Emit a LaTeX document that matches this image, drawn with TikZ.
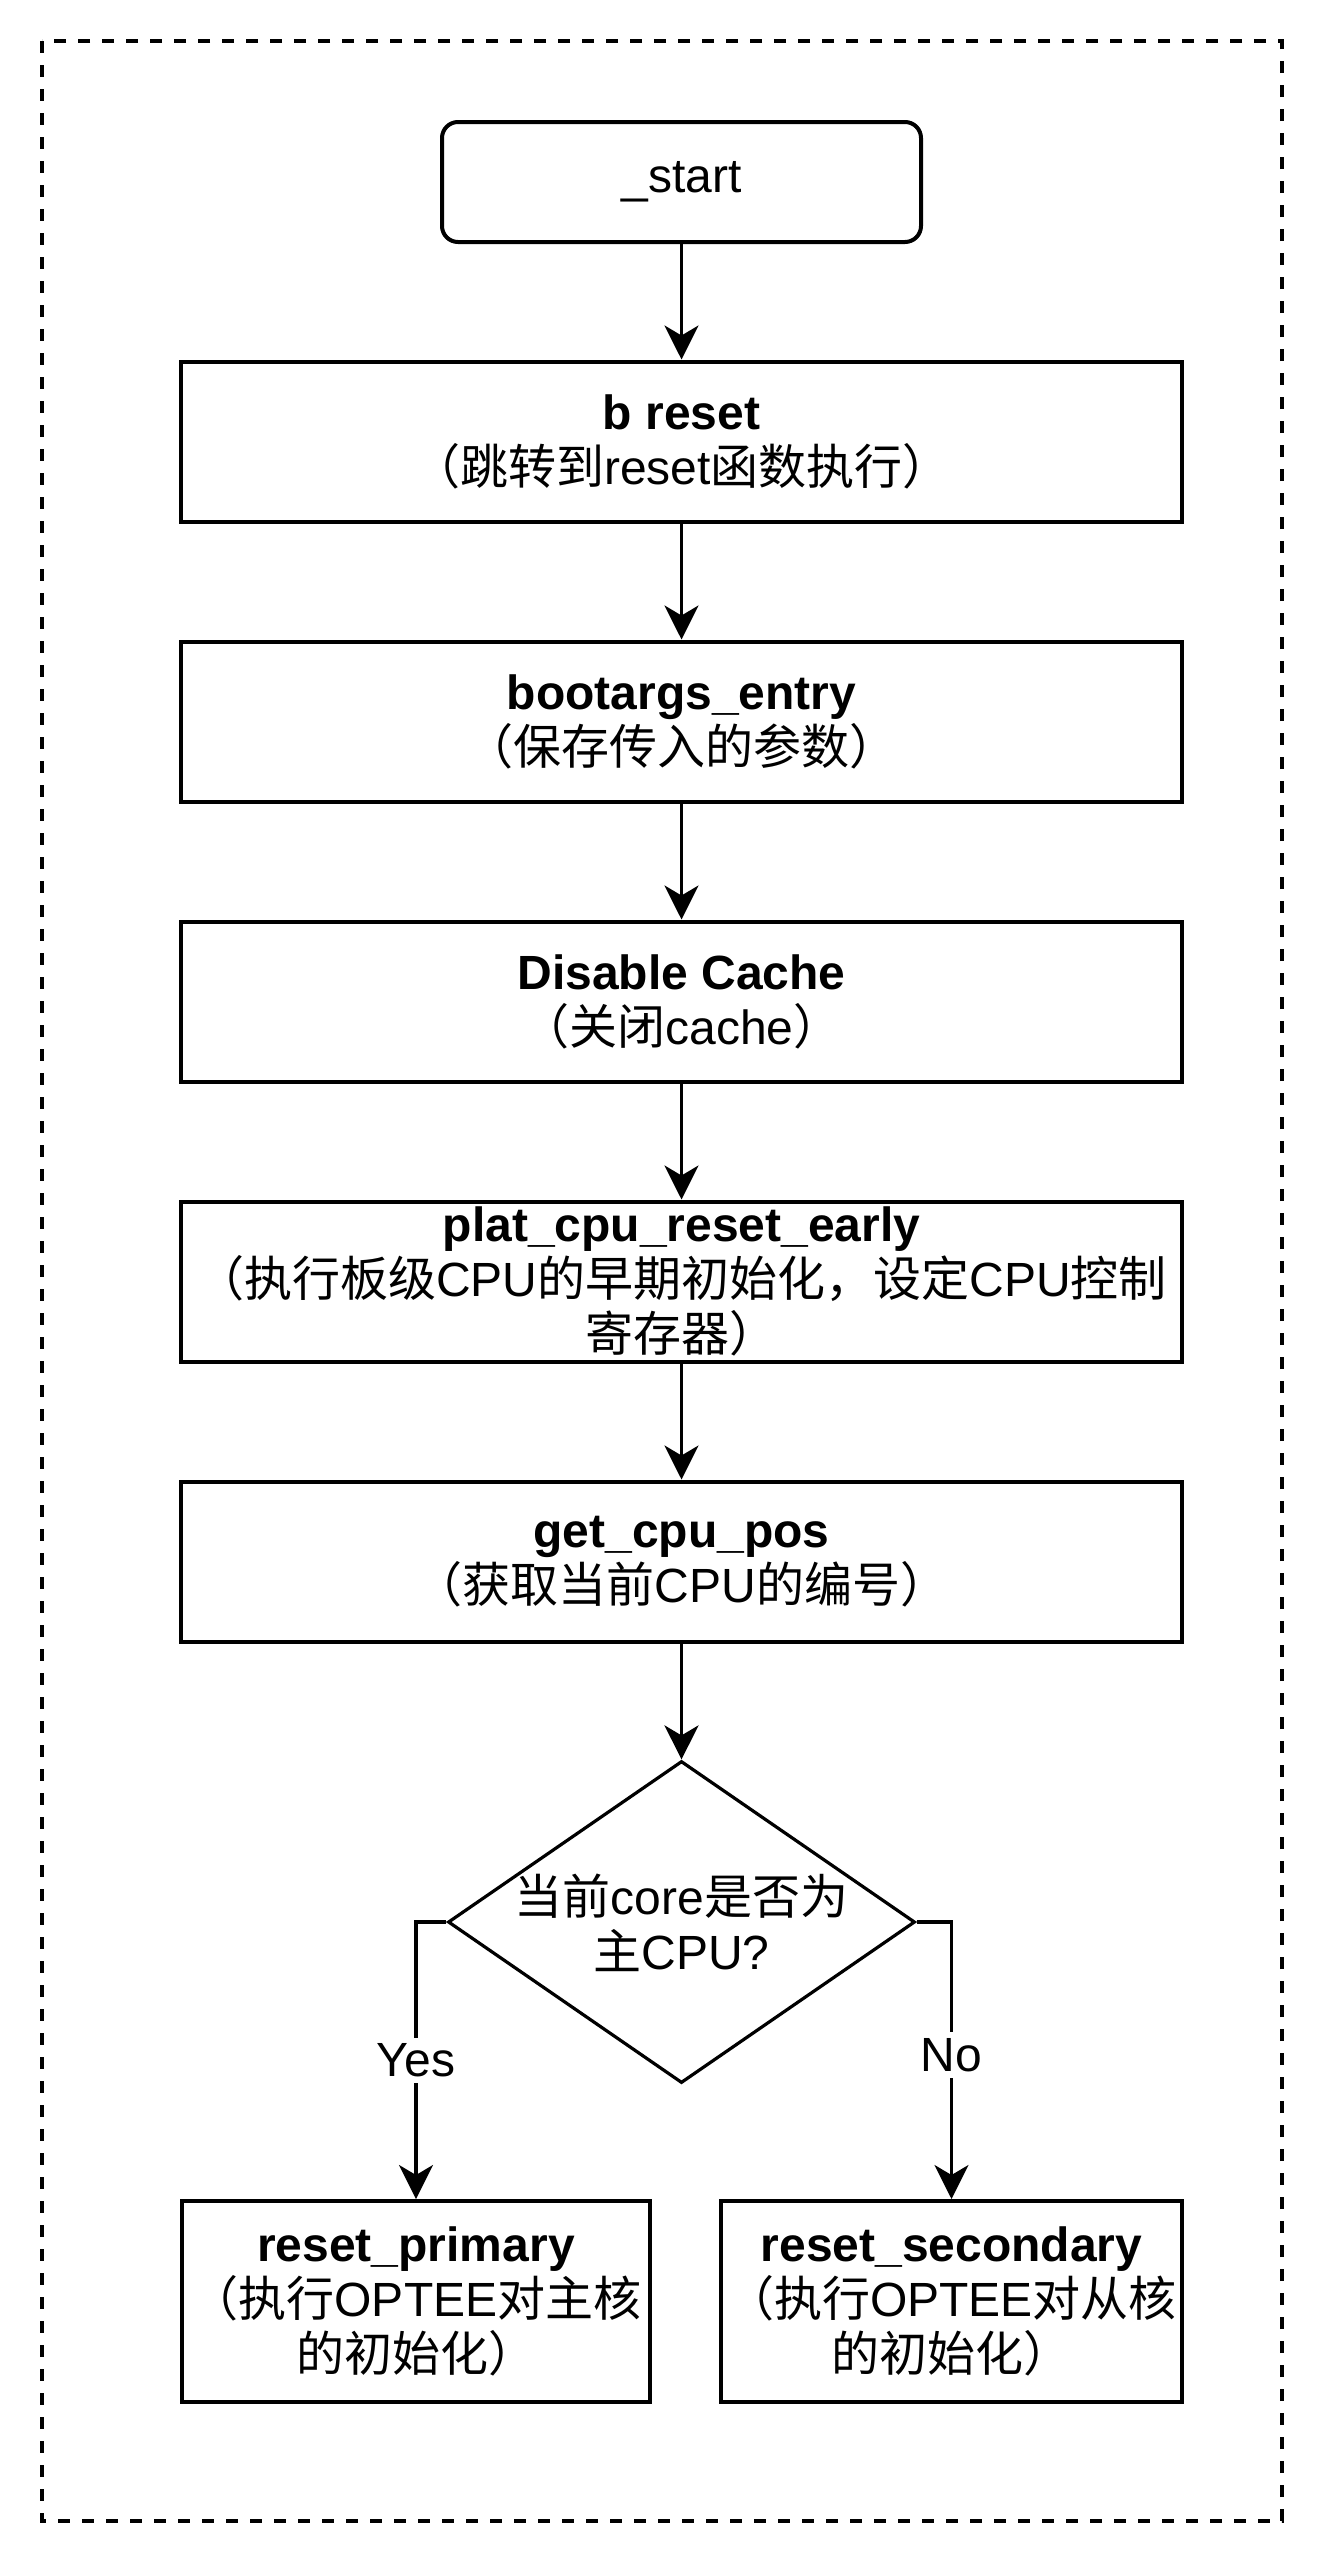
\documentclass[tikz,border=0pt]{standalone}
\usepackage{fontspec}
\setmainfont{Liberation Sans}
\newfontfamily\cjk{Noto Sans CJK SC}
\usetikzlibrary{arrows.meta,shapes.geometric}
\begin{document}
\begin{tikzpicture}[x=0.5pt,y=-0.5pt,
  every node/.style={font=\fontsize{24}{27.5}\selectfont},
  frame/.style={draw, line width=1.6pt, dash pattern=on 6pt off 6pt},
  startbox/.style={draw, line width=2pt, rounded corners=8pt, minimum width=239.5pt, minimum height=60pt, inner sep=0pt},
  box/.style={draw, line width=2pt, minimum width=500.5pt, minimum height=80pt, align=center, inner sep=0pt},
  smallbox/.style={draw, line width=2pt, minimum height=100.5pt, align=center, inner sep=0pt},
  decision/.style={draw, line width=1.6pt, diamond, minimum width=233.5pt, minimum height=161pt, inner sep=0pt},
  arr/.style={line width=1.7pt, -{Stealth[length=17pt, width=17pt, inset=5pt]}},
  lbl/.style={fill=white, inner sep=3pt}
]
\fill[white] (0,0) rectangle (1328,2564);
\useasboundingbox (0,0) rectangle (1328,2564);
\draw[frame] (42,41) rectangle (1282,2521);

\node[startbox] (start) at (681.5,182) {\_start};
\node[box] (breset) at (681.5,441.5) {\textbf{b reset}\\{\cjk （跳转到}reset{\cjk 函数执行）}};
\node[box] (boot) at (681.5,721.5) {\textbf{bootargs\_entry}\\{\cjk （保存传入的参数）}};
\node[box] (cache) at (681.5,1001.5) {\textbf{Disable Cache}\\{\cjk （关闭}cache{\cjk ）}};
\node[box] (plat) at (681.5,1281.5) {\textbf{plat\_cpu\_reset\_early}\\{\cjk （执行板级}CPU{\cjk 的早期初始化，设定}CPU{\cjk 控制}\\{\cjk 寄存器）}};
\node[box] (getpos) at (681.5,1561.5) {\textbf{get\_cpu\_pos}\\{\cjk （获取当前}CPU{\cjk 的编号）}};
\node[decision] (dec) at (681.5,1922) {};
\node[align=center, inner sep=0pt] (dectext) at (681.5,1923) {{\cjk 当前}core{\cjk 是否为}\\{\cjk 主}CPU?};
\node[smallbox, minimum width=234pt] (prim) at (416,2301.5) {\textbf{reset\_primary}\\{\cjk （执行}OPTEE{\cjk 对主核}\\{\cjk 的初始化）}};
\node[smallbox, minimum width=230.5pt] (sec) at (951.5,2301.5) {\textbf{reset\_secondary}\\{\cjk （执行}OPTEE{\cjk 对从核}\\{\cjk 的初始化）}};

\draw[arr] (start) -- (breset);
\draw[arr] (breset) -- (boot);
\draw[arr] (boot) -- (cache);
\draw[arr] (cache) -- (plat);
\draw[arr] (plat) -- (getpos);
\draw[arr] (getpos) -- (dec);
\draw[arr] (dec.west) -| node[lbl, pos=0.75] (yes) {Yes} (prim.north);
\draw[arr] (dec.east) -| node[lbl, pos=0.74] (no) {No} (sec.north);
\end{tikzpicture}
\end{document}
